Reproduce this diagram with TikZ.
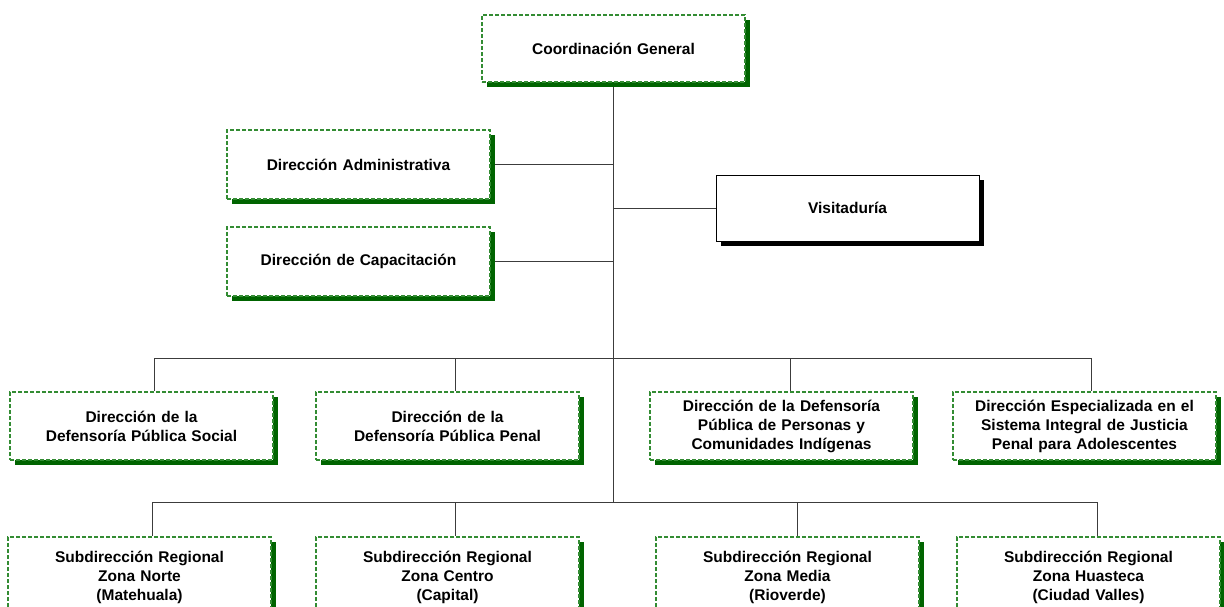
\documentclass[tikz,border=0pt]{standalone}
\usepackage{fontspec}
\setmainfont{Liberation Sans}
\usetikzlibrary{shadows,backgrounds}
\definecolor{gborder}{RGB}{51,140,51}
\definecolor{gshadow}{RGB}{0,100,0}
\definecolor{lin}{RGB}{60,60,60}
\begin{document}
\begin{tikzpicture}[x=1pt,y=-1pt,
  box/.style={rectangle, draw=gborder, line width=1.1pt, dash pattern=on 4pt off 2pt,
    fill=white, minimum width=263pt, minimum height=68pt, inner sep=0pt,
    text width=250pt, align=center, font=\bfseries\fontsize{15.5}{19}\selectfont,
    general shadow={fill=gshadow, shadow xshift=5pt, shadow yshift=-5pt}},
  vbox/.style={rectangle, draw=black, line width=1pt, solid,
    fill=white, minimum width=263pt, minimum height=66pt, inner sep=0pt,
    text width=250pt, align=center, font=\bfseries\fontsize{15.5}{19}\selectfont,
    general shadow={fill=black, shadow xshift=5pt, shadow yshift=-5pt}},
  conn/.style={draw=lin, line width=1pt}]
\useasboundingbox (0,0) rectangle (1224,606);
\clip (0,0) rectangle (1224,606);

\node[box, minimum height=67pt] (cg) at (613.5,48.5) {Coordinación General};
\node[box, minimum height=69pt] (da) at (358.5,164.5) {Dirección Administrativa};
\node[box, minimum height=69pt] (dc) at (358.5,261.5) {Dirección de Capacitación};
\node[vbox] (vis) at (847.5,208) {Visitaduría};

\node[box] (s1) at (141.5,426) {Dirección de la\\Defensoría Pública Social};
\node[box] (s2) at (447.5,426) {Dirección de la\\Defensoría Pública Penal};
\node[box] (s3) at (781.5,426) {Dirección de la Defensoría\\Pública de Personas y\\Comunidades Indígenas};
\node[box] (s4) at (1084.5,426) {Dirección Especializada en el\\Sistema Integral de Justicia\\Penal para Adolescentes};

\node[box, minimum height=80pt] (z1) at (139.5,577) {Subdirección Regional\\Zona Norte\\(Matehuala)};
\node[box, minimum height=80pt] (z2) at (447.5,577) {Subdirección Regional\\Zona Centro\\(Capital)};
\node[box, minimum height=80pt] (z3) at (787.5,577) {Subdirección Regional\\Zona Media\\(Rioverde)};
\node[box, minimum height=80pt] (z4) at (1088.5,577) {Subdirección Regional\\Zona Huasteca\\(Ciudad Valles)};

\coordinate (trunkend) at (613,502);
\coordinate (a1) at (154,358);
\coordinate (a2) at (455,358);
\coordinate (a3) at (790,358);
\coordinate (a4) at (1091,358);
\coordinate (b1) at (152,502);
\coordinate (b2) at (455,502);
\coordinate (b3) at (797,502);
\coordinate (b4) at (1097,502);

\begin{scope}[on background layer]
  \draw[conn] (cg.south) -- (cg.south |- trunkend);
  \draw[conn] (da.east) -- (da.east -| cg.south);
  \draw[conn] (dc.east) -- (dc.east -| cg.south);
  \draw[conn] (vis.west) -- (vis.west -| cg.south);
  \draw[conn] (a1) -- (a4);
  \draw[conn] (b1) -- (b4);
  \draw[conn] (a1) -- (a1 |- s1.north);
  \draw[conn] (a2) -- (a2 |- s2.north);
  \draw[conn] (a3) -- (a3 |- s3.north);
  \draw[conn] (a4) -- (a4 |- s4.north);
  \draw[conn] (b1) -- (b1 |- z1.north);
  \draw[conn] (b2) -- (b2 |- z2.north);
  \draw[conn] (b3) -- (b3 |- z3.north);
  \draw[conn] (b4) -- (b4 |- z4.north);
\end{scope}
\end{tikzpicture}
\end{document}
